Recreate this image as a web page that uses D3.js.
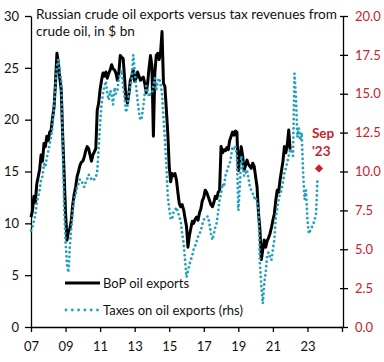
<!DOCTYPE html>
<html>
<head>
<meta charset="utf-8">
<script src="https://cdn.jsdelivr.net/npm/d3@7"></script>
<style>
  body { margin: 0; background: #fff; }
  text { font-family: Lato, "Open Sans", sans-serif; }
</style>
</head>
<body>
<div id="chart"></div>
<script>
// monthly series, first value = Jan 2007
const startYear = 2007

// BoP crude oil exports, $ bn (lhs), Jan 2007 - Jan 2022
const bopExports = [
  10.6, 11.2, 12.6, 12.0, 13.8, 14.5, 15.2, 16.6, 16.0, 17.7, 17.4, 18.4,
  18.0, 18.8, 19.0, 20.2, 21.2, 23.5, 26.4, 25.5, 24.0, 22.9, 18.5, 14.8,
  11.0, 8.4, 9.2, 9.5, 10.3, 11.8, 12.8, 13.5, 14.5, 15.0, 15.6, 15.9,
  16.0, 16.4, 17.0, 17.4, 17.2, 16.6, 16.0, 16.6, 16.9, 17.2, 20.9, 21.6,
  22.9, 23.8, 24.5, 24.2, 24.6, 24.0, 24.5, 24.8, 25.3, 24.9, 24.8, 24.5,
  23.8, 24.5, 26.2, 26.0, 25.9, 24.0, 21.9, 21.6, 22.5, 23.8, 24.2, 24.8,
  23.7, 24.0, 24.6, 24.2, 23.8, 24.0, 24.1, 23.5, 22.6, 23.5, 25.0, 26.2,
  25.1, 18.4, 24.5, 26.2, 26.4, 25.8, 26.5, 28.5, 23.5, 23.2, 21.0, 18.7,
  15.5, 14.0, 14.8, 14.6, 14.8, 14.2, 13.0, 11.9, 11.6, 11.8, 11.3, 10.5,
  9.7, 7.7, 8.8, 9.5, 10.2, 10.0, 10.4, 10.6, 10.3, 11.0, 11.4, 12.2,
  12.5, 13.2, 13.0, 12.6, 12.2, 11.8, 11.6, 12.0, 12.6, 12.4, 13.0, 13.2,
  17.4, 16.8, 17.1, 17.0, 17.3, 17.1, 18.0, 18.4, 18.8, 18.5, 18.9, 18.8,
  15.1, 16.2, 17.4, 16.5, 15.1, 15.6, 16.1, 15.7, 15.5, 15.3, 15.8, 15.5,
  14.5, 13.5, 11.0, 9.4, 6.5, 7.5, 8.4, 7.7, 8.3, 8.6, 9.0, 9.6,
  10.3, 10.9, 12.2, 13.2, 13.0, 14.2, 15.1, 16.0, 17.4, 16.8, 17.6, 19.0,
  17.1
]

// taxes on oil exports, $ bn (rhs), Jan 2007 - Aug 2023
const oilTaxes = [
  6.2, 6.4, 6.8, 7.2, 8.0, 8.4, 8.8, 9.5, 9.7, 10.5, 10.3, 10.9,
  11.3, 11.8, 12.2, 13.0, 14.2, 15.6, 16.8, 17.2, 16.3, 15.9, 12.0, 7.7,
  5.5, 4.0, 3.5, 5.2, 6.4, 7.4, 8.2, 8.5, 9.0, 9.2, 9.5, 9.4,
  9.2, 9.0, 9.3, 9.5, 9.8, 9.7, 9.5, 9.4, 9.5, 9.6, 10.0, 11.5,
  13.1, 14.3, 15.0, 15.5, 15.8, 15.0, 14.6, 15.2, 15.0, 14.3, 15.4, 15.0,
  15.2, 16.0, 16.3, 16.5, 15.4, 14.8, 13.8, 14.2, 15.0, 15.5, 16.0, 17.5,
  16.5, 15.5, 14.6, 13.8, 13.3, 13.5, 14.2, 15.0, 15.5, 15.2, 14.8, 15.0,
  15.0, 15.5, 16.0, 15.2, 15.8, 16.0, 15.6, 15.0, 13.5, 12.0, 10.5, 8.4,
  7.6, 7.0, 6.9, 7.4, 7.5, 7.7, 7.4, 7.1, 6.8, 6.0, 5.4, 4.3,
  3.2, 3.6, 4.0, 4.3, 4.6, 5.0, 5.2, 5.5, 5.8, 6.0, 6.2, 6.6,
  6.9, 7.0, 7.1, 7.1, 6.6, 6.0, 5.6, 6.0, 6.4, 6.7, 7.4, 8.2,
  8.6, 9.2, 9.0, 9.7, 10.0, 10.3, 10.5, 11.0, 11.6, 11.4, 11.6, 11.0,
  7.5, 9.0, 11.0, 10.5, 9.7, 9.9, 10.1, 9.6, 9.0, 8.8, 8.6, 8.3,
  8.4, 8.0, 7.5, 4.1, 2.6, 1.5, 2.8, 3.5, 4.6, 4.8, 4.5, 4.3,
  5.0, 5.6, 7.0, 7.6, 8.2, 8.6, 8.8, 9.3, 9.9, 10.2, 10.6, 11.0,
  11.4, 11.4, 11.0, 16.3, 14.8, 12.2, 12.8, 12.0, 12.5, 9.9, 8.2, 8.8,
  6.9, 6.0, 6.2, 6.4, 6.6, 6.9, 7.3, 9.6
]

// latest estimate, marked separately
const lastLabel = ["Sep", "'23"]
const lastMonth = 200   // Sep 2023
const lastValue = 10.2

const yearTicks = [2007, 2009, 2011, 2013, 2015, 2017, 2019, 2021, 2023, 2025]
const leftTicks = [0, 5, 10, 15, 20, 25, 30]
const rightTicks = [0, 2.5, 5, 7.5, 10, 12.5, 15, 17.5, 20]
const titleLines = ["Russian crude oil exports versus tax revenues from", "crude oil, in $ bn"]
const seriesNames = ["BoP oil exports", "Taxes on oil exports (rhs)"]

const width = 384, height = 362
const red = "#c8232c", teal = "#23a0bd"

const svg = d3.select("#chart")
  .append("svg")
    .attr("width", width)
    .attr("height", height)

const x = d3.scaleLinear().domain([2007, 2025]).range([31, 342])
const yL = d3.scaleLinear().domain([0, 30]).range([327, 16])
const yR = d3.scaleLinear().domain([0, 20]).range([327, 16])

const monthX = m => x(startYear + m / 12)

// axes
const xAxis = svg.append("g")
  .attr("transform", `translate(0,${yL(0)})`)
  .call(d3.axisBottom(x).tickValues(yearTicks)
    .tickFormat(d => d == 2025 ? "" : String(d).slice(2))
    .tickSize(5).tickSizeOuter(0).tickPadding(10))

const leftAxis = svg.append("g")
  .attr("transform", `translate(${x(2007)},0)`)
  .call(d3.axisLeft(yL).tickValues(leftTicks).tickSize(6).tickSizeOuter(0).tickPadding(6))

const rightAxis = svg.append("g")
  .attr("transform", `translate(343,0)`)
  .call(d3.axisRight(yR).tickValues(rightTicks).tickFormat(d3.format(".1f"))
    .tickSize(5).tickSizeOuter(0).tickPadding(7))

svg.selectAll(".domain, .tick line").attr("stroke", "#000").attr("stroke-width", 1.3)
svg.selectAll(".tick text").attr("font-family", "Lato, sans-serif").attr("font-size", 13).attr("fill", "#111")
rightAxis.attr("color", "#000")
rightAxis.selectAll(".tick text").attr("fill", red)
rightAxis.selectAll(".tick line").attr("x1", -3)

// lines
const bopLine = d3.line().x((d, i) => monthX(i)).y(d => yL(d))
const taxLine = d3.line().x((d, i) => monthX(i)).y(d => yR(d))

svg.append("path")
  .datum(bopExports)
  .attr("fill", "none")
  .attr("stroke", "#000")
  .attr("stroke-width", 3)
  .attr("stroke-linejoin", "round")
  .attr("d", bopLine)

svg.append("path")
  .datum(oilTaxes)
  .attr("fill", "none")
  .attr("stroke", teal)
  .attr("stroke-width", 2.8)
  .attr("stroke-linecap", "round")
  .attr("stroke-dasharray", "0 4.6")
  .attr("d", taxLine)

// Sep '23 marker
svg.append("path")
  .attr("d", d3.symbol(d3.symbolSquare, 34)())
  .attr("transform", `translate(${monthX(lastMonth)},${yR(lastValue)}) rotate(45)`)
  .attr("fill", red)

svg.append("g")
  .selectAll("text")
  .data(lastLabel)
  .join("text")
    .attr("x", monthX(lastMonth) - 7)
    .attr("y", (d, i) => yR(lastValue) - 30 + i * 18)
    .attr("font-size", 13.5)
    .attr("font-weight", "bold")
    .attr("fill", red)
    .text(d => d)

// title
svg.append("g")
  .selectAll("text")
  .data(titleLines)
  .join("text")
    .attr("x", 36)
    .attr("y", (d, i) => 19 + i * 17)
    .attr("font-size", 13.6)
    .attr("fill", "#111")
    .text(d => d)

// legend
const legend = svg.append("g")
legend.append("line")
  .attr("x1", 65).attr("x2", 100).attr("y1", 283).attr("y2", 283)
  .attr("stroke", "#000").attr("stroke-width", 3)
legend.append("line")
  .attr("x1", 66).attr("x2", 98).attr("y1", 310).attr("y2", 310)
  .attr("stroke", teal).attr("stroke-width", 2.8)
  .attr("stroke-linecap", "round").attr("stroke-dasharray", "0 6.3")
legend.selectAll("text")
  .data(seriesNames)
  .join("text")
    .attr("x", 103)
    .attr("y", (d, i) => 288 + i * 27)
    .attr("font-size", 13)
    .attr("fill", "#111")
    .text(d => d)
</script>
</body>
</html>
